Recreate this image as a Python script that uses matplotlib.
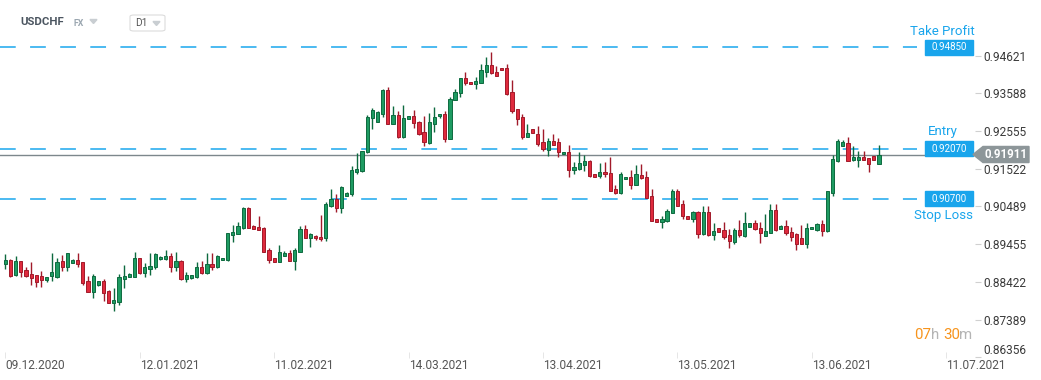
import matplotlib
matplotlib.use("Agg")
import matplotlib.pyplot as plt
from matplotlib.patches import Polygon, Rectangle, FancyBboxPatch
import numpy as np

plt.rcParams['font.family'] = ['Roboto', 'DejaVu Sans']

# daily candles USDCHF (one candle per trading session incl. sunday)
opens = [
    0.8891, 0.8902, 0.8862, 0.8899, 0.8875, 0.8864, 0.8860, 0.8857, 0.8848, 0.8859,
    0.8856, 0.8899, 0.8884, 0.8895, 0.8902, 0.8896, 0.8844, 0.8815, 0.8834, 0.8844,
    0.8816, 0.8785, 0.8788, 0.8851, 0.8855, 0.8856, 0.8907, 0.8867, 0.8878, 0.8882,
    0.8904, 0.8906, 0.8913, 0.8884, 0.8899, 0.8851, 0.8854, 0.8856, 0.8883, 0.8867,
    0.8891, 0.8884, 0.8901, 0.8903, 0.8971, 0.8974, 0.8990, 0.9045, 0.8995, 0.8992,
    0.8990, 0.8930, 0.8908, 0.8897, 0.8914, 0.8921, 0.8900, 0.8925, 0.8987, 0.8961,
    0.8969, 0.8964, 0.8961, 0.9051, 0.9069, 0.9044, 0.9078, 0.9082, 0.9144, 0.9146,
    0.9197, 0.9290, 0.9281, 0.9303, 0.9368, 0.9274, 0.9298, 0.9240, 0.9288, 0.9296,
    0.9279, 0.9252, 0.9223, 0.9276, 0.9296, 0.9301, 0.9233, 0.9340, 0.9359, 0.9400,
    0.9390, 0.9385, 0.9388, 0.9418, 0.9436, 0.9417, 0.9428, 0.9428, 0.9362, 0.9315,
    0.9294, 0.9240, 0.9261, 0.9247, 0.9225, 0.9203, 0.9228, 0.9225, 0.9192, 0.9198,
    0.9149, 0.9151, 0.9162, 0.9173, 0.9138, 0.9133, 0.9142, 0.9140, 0.9097, 0.9085,
    0.9123, 0.9129, 0.9108, 0.9135, 0.9129, 0.9077, 0.9014, 0.9007, 0.9010, 0.9032,
    0.9091, 0.9055, 0.9022, 0.9015, 0.9034, 0.8974, 0.9034, 0.8971, 0.8990, 0.8984,
    0.8971, 0.8952, 0.8984, 0.8969, 0.8993, 0.9003, 0.8990, 0.8969, 0.8977, 0.9039,
    0.8988, 0.8995, 0.8979, 0.8973, 0.8962, 0.8947, 0.8986, 0.8983, 0.9001, 0.8981,
    0.9086, 0.9174, 0.9214, 0.9223, 0.9177, 0.9177, 0.9184, 0.9181, 0.9187, 0.9166,
]
highs = [
    0.8919, 0.8905, 0.8913, 0.8899, 0.8882, 0.8897, 0.8860, 0.8871, 0.8855, 0.8920,
    0.8908, 0.8916, 0.8920, 0.8906, 0.8920, 0.8896, 0.8858, 0.8864, 0.8844, 0.8849,
    0.8820, 0.8825, 0.8864, 0.8888, 0.8866, 0.8923, 0.8907, 0.8893, 0.8920, 0.8920,
    0.8913, 0.8930, 0.8920, 0.8924, 0.8902, 0.8868, 0.8861, 0.8897, 0.8899, 0.8921,
    0.8921, 0.8916, 0.8908, 0.8976, 0.8998, 0.9007, 0.9047, 0.9047, 0.8998, 0.9023,
    0.8992, 0.8935, 0.8908, 0.8943, 0.8927, 0.8930, 0.8935, 0.8995, 0.8998, 0.8977,
    0.8971, 0.9025, 0.9062, 0.9097, 0.9082, 0.9105, 0.9089, 0.9160, 0.9194, 0.9201,
    0.9299, 0.9319, 0.9310, 0.9370, 0.9375, 0.9324, 0.9310, 0.9327, 0.9296, 0.9313,
    0.9282, 0.9296, 0.9305, 0.9321, 0.9301, 0.9310, 0.9348, 0.9370, 0.9402, 0.9416,
    0.9390, 0.9403, 0.9439, 0.9459, 0.9472, 0.9434, 0.9428, 0.9439, 0.9395, 0.9315,
    0.9302, 0.9275, 0.9261, 0.9269, 0.9261, 0.9236, 0.9247, 0.9236, 0.9198, 0.9217,
    0.9171, 0.9198, 0.9190, 0.9176, 0.9138, 0.9168, 0.9171, 0.9184, 0.9108, 0.9143,
    0.9129, 0.9149, 0.9162, 0.9165, 0.9146, 0.9097, 0.9014, 0.9023, 0.9042, 0.9097,
    0.9097, 0.9066, 0.9022, 0.9036, 0.9036, 0.9050, 0.9050, 0.9003, 0.8990, 0.9006,
    0.8987, 0.8990, 0.9012, 0.9034, 0.9003, 0.9012, 0.9006, 0.9028, 0.9055, 0.9055,
    0.8998, 0.9012, 0.8992, 0.8976, 0.8998, 0.9003, 0.8992, 0.9003, 0.9012, 0.9091,
    0.9190, 0.9234, 0.9231, 0.9239, 0.9214, 0.9201, 0.9201, 0.9181, 0.9187, 0.9217,
]
lows = [
    0.8877, 0.8856, 0.8858, 0.8855, 0.8856, 0.8833, 0.8827, 0.8829, 0.8843, 0.8845,
    0.8852, 0.8873, 0.8873, 0.8893, 0.8882, 0.8834, 0.8815, 0.8799, 0.8832, 0.8791,
    0.8783, 0.8763, 0.8780, 0.8825, 0.8855, 0.8856, 0.8864, 0.8855, 0.8862, 0.8877,
    0.8902, 0.8902, 0.8870, 0.8872, 0.8848, 0.8843, 0.8851, 0.8854, 0.8864, 0.8864,
    0.8875, 0.8880, 0.8901, 0.8900, 0.8952, 0.8974, 0.8988, 0.8990, 0.8988, 0.8985,
    0.8923, 0.8895, 0.8897, 0.8897, 0.8914, 0.8900, 0.8875, 0.8925, 0.8961, 0.8939,
    0.8958, 0.8954, 0.8954, 0.9048, 0.9033, 0.9030, 0.9078, 0.9078, 0.9138, 0.9144,
    0.9194, 0.9260, 0.9281, 0.9295, 0.9274, 0.9274, 0.9235, 0.9235, 0.9288, 0.9264,
    0.9244, 0.9215, 0.9221, 0.9254, 0.9292, 0.9226, 0.9233, 0.9340, 0.9349, 0.9382,
    0.9383, 0.9371, 0.9388, 0.9404, 0.9412, 0.9407, 0.9422, 0.9355, 0.9304, 0.9271,
    0.9234, 0.9240, 0.9249, 0.9215, 0.9202, 0.9187, 0.9217, 0.9183, 0.9192, 0.9130,
    0.9138, 0.9149, 0.9146, 0.9129, 0.9129, 0.9126, 0.9130, 0.9092, 0.9083, 0.9083,
    0.9123, 0.9097, 0.9108, 0.9125, 0.9073, 0.9010, 0.9007, 0.8990, 0.9007, 0.9032,
    0.9051, 0.9015, 0.9015, 0.9007, 0.8963, 0.8971, 0.8969, 0.8958, 0.8980, 0.8960,
    0.8936, 0.8947, 0.8966, 0.8966, 0.8993, 0.8985, 0.8949, 0.8969, 0.8977, 0.8982,
    0.8988, 0.8971, 0.8955, 0.8930, 0.8945, 0.8936, 0.8986, 0.8981, 0.8969, 0.8979,
    0.9078, 0.9171, 0.9214, 0.9174, 0.9174, 0.9158, 0.9177, 0.9144, 0.9177, 0.9166,
]
closes = [
    0.8902, 0.8859, 0.8899, 0.8870, 0.8857, 0.8854, 0.8843, 0.8848, 0.8855, 0.8869,
    0.8897, 0.8884, 0.8920, 0.8902, 0.8892, 0.8838, 0.8815, 0.8858, 0.8844, 0.8812,
    0.8785, 0.8793, 0.8855, 0.8858, 0.8864, 0.8907, 0.8867, 0.8882, 0.8886, 0.8918,
    0.8910, 0.8913, 0.8884, 0.8899, 0.8850, 0.8861, 0.8861, 0.8883, 0.8866, 0.8891,
    0.8884, 0.8913, 0.8908, 0.8976, 0.8979, 0.8995, 0.9045, 0.8990, 0.8988, 0.8985,
    0.8925, 0.8902, 0.8897, 0.8924, 0.8921, 0.8900, 0.8930, 0.8988, 0.8961, 0.8973,
    0.8961, 0.8959, 0.9055, 0.9068, 0.9044, 0.9102, 0.9086, 0.9149, 0.9151, 0.9201,
    0.9294, 0.9313, 0.9308, 0.9368, 0.9274, 0.9298, 0.9240, 0.9290, 0.9296, 0.9277,
    0.9248, 0.9225, 0.9279, 0.9293, 0.9301, 0.9233, 0.9343, 0.9362, 0.9400, 0.9388,
    0.9383, 0.9392, 0.9423, 0.9436, 0.9414, 0.9407, 0.9422, 0.9358, 0.9310, 0.9289,
    0.9240, 0.9250, 0.9249, 0.9221, 0.9205, 0.9228, 0.9217, 0.9198, 0.9198, 0.9149,
    0.9157, 0.9168, 0.9173, 0.9132, 0.9129, 0.9142, 0.9137, 0.9092, 0.9086, 0.9138,
    0.9129, 0.9108, 0.9138, 0.9127, 0.9073, 0.9010, 0.9007, 0.9014, 0.9036, 0.9091,
    0.9051, 0.9023, 0.9015, 0.9034, 0.8974, 0.9034, 0.8971, 0.8981, 0.8980, 0.8966,
    0.8955, 0.8984, 0.8971, 0.9003, 0.9003, 0.8988, 0.8977, 0.8981, 0.9039, 0.8985,
    0.8995, 0.8977, 0.8966, 0.8947, 0.8947, 0.8990, 0.8992, 0.9001, 0.8981, 0.9091,
    0.9179, 0.9228, 0.9225, 0.9174, 0.9184, 0.9184, 0.9177, 0.9166, 0.9177, 0.9191,
]

date_pos = [0, 26, 52, 78, 104, 130, 156, 182]
date_labels = ['09.12.2020', '12.01.2021', '11.02.2021', '14.03.2021',
               '13.04.2021', '13.05.2021', '13.06.2021', '11.07.2021']
price_ticks = [0.86356, 0.87389, 0.88422, 0.89455, 0.90489, 0.91522,
               0.92555, 0.93588, 0.94621]

take_profit = 0.94850
entry = 0.92070
stop_loss = 0.90700
last_price = 0.91911

GREEN, GREEN_E = '#1e9b62', '#0d6a3f'
RED, RED_E = '#df2a3d', '#a11a2a'
BLUE = '#19a5ec'
LBLUE = '#1aa7ee'

W, H = 1041, 380
fig = plt.figure(figsize=(W / 100, H / 100), dpi=100)
ax = fig.add_axes([0, 22 / H, 975 / W, 358 / H])

o = np.array(opens); c = np.array(closes)
hi = np.array(highs); lo = np.array(lows)
x = np.arange(len(o))
up = c >= o
bot = np.minimum(o, c)
hgt = np.maximum(np.abs(c - o), 0.00018)

ax.vlines(x[up], lo[up], hi[up], color=GREEN_E, lw=1.0, zorder=2)
ax.vlines(x[~up], lo[~up], hi[~up], color=RED_E, lw=1.0, zorder=2)
ax.bar(x[up], hgt[up], bottom=bot[up], width=0.62, color=GREEN,
       edgecolor=GREEN_E, linewidth=0.7, zorder=3)
ax.bar(x[~up], hgt[~up], bottom=bot[~up], width=0.62, color=RED,
       edgecolor=RED_E, linewidth=0.7, zorder=3)

ax.set_xlim(-1.025, 187.56)
ax.set_ylim(0.96144 - 358 / 3650, 0.96144)

# TP / entry / SL levels
for lvl in (take_profit, entry, stop_loss):
    ax.axhline(lvl, xmin=0, xmax=917 / 975, color=LBLUE, lw=1.1,
               linestyle=(0, (10.3, 9.4)), zorder=1)
ax.axhline(last_price, color='#7d878c', lw=1.0, zorder=1)

ytr = ax.get_yaxis_transform()
for lvl in (take_profit, entry, stop_loss):
    ax.add_patch(Rectangle((925 / 975, lvl - 0.00205), 48 / 975, 0.0041,
                           transform=ytr, color=BLUE, clip_on=False, zorder=5))
    ax.text(949 / 975, lvl, f'{lvl:.5f}', transform=ytr, color='white',
            fontsize=7, ha='center', va='center', zorder=6)

ax.annotate('Take Profit', (942 / 975, take_profit), xycoords=ytr,
            xytext=(0, 11.5), textcoords='offset points', ha='center',
            va='center', color=BLUE, fontsize=9.5)
ax.annotate('Entry', (943 / 975, entry), xycoords=ytr,
            xytext=(0, 12.5), textcoords='offset points', ha='center',
            va='center', color=BLUE, fontsize=9.5)
ax.annotate('Stop Loss', (943 / 975, stop_loss), xycoords=ytr,
            xytext=(0, -11.8), textcoords='offset points', ha='center',
            va='center', color=BLUE, fontsize=9.5)

# current price tag
hh = 0.0022
tag = [(973 / 975, last_price), (983 / 975, last_price + hh),
       (1029 / 975, last_price + hh), (1029 / 975, last_price - hh),
       (983 / 975, last_price - hh)]
ax.add_patch(Polygon(tag, closed=True, transform=ytr, color='#8d9699',
                     clip_on=False, zorder=7))
ax.text(1006 / 975, last_price, f'{last_price:.5f}', transform=ytr,
        color='white', fontsize=8.3, fontweight='bold', ha='center',
        va='center', zorder=8)

for s in ax.spines.values():
    s.set_visible(False)
ax.yaxis.tick_right()
ax.set_yticks(price_ticks)
ax.set_yticklabels([f'{t:.5f}' for t in price_ticks])
ax.tick_params(axis='y', length=4, width=0.8, color='#d0d0d0', pad=2,
               labelsize=8.6, labelcolor='#3a3a3a')
ax.get_yticklabels()[0].set_va('bottom')
ax.set_xticks(date_pos)
ax.set_xticklabels(date_labels, ha='left')
ax.tick_params(axis='x', direction='in', length=4, width=0.6,
               color='#e2e2e2', pad=1, labelsize=8.6, labelcolor='#555555')

# header
fig.text(20 / W, 1 - 22 / H, 'USDCHF', fontsize=8.2, fontweight='bold',
         color='#4b5560', va='center')
fig.text(74 / W, 1 - 23 / H, 'FX', fontsize=6.3, fontweight='bold',
         color='#9aa6b0', va='center')
fig.add_artist(Polygon([(90 / W, 1 - 19.5 / H), (97 / W, 1 - 19.5 / H),
                        (93.5 / W, 1 - 23.5 / H)], transform=fig.transFigure,
                       color='#c9ced2'))
fig.add_artist(FancyBboxPatch((130 / W, 1 - 31 / H), 35 / W, 16 / H,
                              boxstyle='round,pad=0,rounding_size=0.004',
                              transform=fig.transFigure, fc='white',
                              ec='#dcdcdc', lw=0.8))
fig.text(135 / W, 1 - 23 / H, 'D1', fontsize=7.3, color='#555555',
         va='center')
fig.add_artist(Polygon([(153 / W, 1 - 21.5 / H), (160 / W, 1 - 21.5 / H),
                        (156.5 / W, 1 - 25.5 / H)], transform=fig.transFigure,
                       color='#c9ced2'))

# candle timer
ORANGE, GREY = '#f7941d', '#b4b4b4'
ty = 1 - 335 / H
fig.text(914 / W, ty, '07', fontsize=10.8, color=ORANGE, va='center')
fig.text(930.5 / W, ty, 'h', fontsize=10.8, color=GREY, va='center')
fig.text(943 / W, ty, '30', fontsize=10.8, color=ORANGE, va='center')
fig.text(959.5 / W, ty, 'm', fontsize=10.8, color=GREY, va='center')

fig.savefig('out.png', dpi=100, facecolor='white')
